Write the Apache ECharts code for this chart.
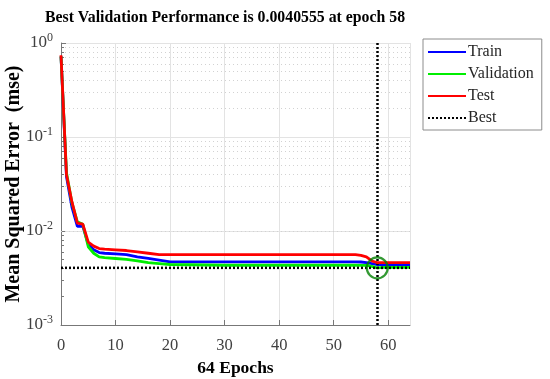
<!DOCTYPE html>
<html><head><meta charset="utf-8">
<script src="https://cdn.jsdelivr.net/npm/echarts@6/dist/echarts.min.js"></script>
<style>html,body{margin:0;padding:0;background:#fff}#c{width:550px;height:379px}</style>
</head><body><div id="c"></div>
<script>
const titleText = 'Best Validation Performance is 0.0040555 at epoch 58';
const epochs     = [0, 1, 2, 3, 4, 5, 6, 7, 8, 10, 12, 14, 16, 18, 20, 30, 40, 50, 54, 55, 56, 57, 58, 59, 64];
const train      = [0.72, 0.038, 0.018, 0.0112, 0.0113, 0.0072, 0.0063, 0.0059, 0.0058, 0.0057, 0.0056, 0.0053, 0.0051, 0.0049, 0.0047, 0.0047, 0.0047, 0.0047, 0.0047, 0.00468, 0.0046, 0.0045, 0.0044, 0.0044, 0.0044];
const validation = [0.72, 0.042, 0.020, 0.0125, 0.0118, 0.0068, 0.0058, 0.0053, 0.0052, 0.0051, 0.0050, 0.0048, 0.0046, 0.0045, 0.0044, 0.00432, 0.00432, 0.00432, 0.00432, 0.0043, 0.0043, 0.0042, 0.0040555, 0.0041, 0.0041];
const test       = [0.74, 0.040, 0.0205, 0.0121, 0.0118, 0.0076, 0.0069, 0.0065, 0.0064, 0.0063, 0.0062, 0.0060, 0.0058, 0.0056, 0.0056, 0.0056, 0.0056, 0.0056, 0.0056, 0.0055, 0.0053, 0.0048, 0.0046, 0.0046, 0.0046];
const bestEpoch = 58;
const bestValue = 0.0040555;
const xRange = [0, 64];
const yRange = [0.001, 1];
const yMinorGrid = [0.002,0.003,0.004,0.005,0.006,0.007,0.008,0.009,0.02,0.03,0.04,0.05,0.06,0.07,0.08,0.09,0.2,0.3,0.4,0.5,0.6,0.7,0.8,0.9];

const FONT = '"Liberation Serif","Times New Roman",serif';
const pair = (xs, ys) => xs.map((x, i) => [x, ys[i]]);

const chart = echarts.init(document.getElementById('c'), null, {renderer: 'canvas'});
chart.setOption({
  animation: false,
  backgroundColor: '#fff',
  title: {
    text: titleText, left: 220, top: 5, textAlign: 'center',
    textStyle: {fontFamily: FONT, fontWeight: 'bold', fontSize: 15.8, color: '#000'}
  },
  grid: {left: 61, right: 140, top: 43, bottom: 54, containLabel: false, outerBoundsMode: 'none'},
  legend: {
    orient: 'vertical', left: 423, top: 39,
    itemWidth: 38, itemHeight: 14, itemGap: 6,
    padding: [5, 8, 4, 4],
    borderColor: '#8c8c8c', borderWidth: 1, backgroundColor: '#fff',
    itemStyle: {opacity: 0},
    textStyle: {fontFamily: FONT, fontSize: 16, color: '#262626', padding: [0, 0, 0, -3]},
    data: ['Train', 'Validation', 'Test', 'Best']
  },
  xAxis: {
    type: 'value', min: xRange[0], max: xRange[1], interval: 10,
    name: '64 Epochs', nameLocation: 'middle', nameGap: 34,
    nameTextStyle: {fontFamily: FONT, fontWeight: 'bold', fontSize: 17.5, color: '#000'},
    axisLine: {lineStyle: {color: '#777', width: 1}},
    axisTick: {show: true, inside: true, length: 5, lineStyle: {color: '#777'}},
    axisLabel: {fontFamily: FONT, fontSize: 16.5, color: '#404040', margin: 12, showMaxLabel: false},
    splitLine: {show: true, lineStyle: {color: '#e3e3e3', width: 1}}
  },
  yAxis: {
    type: 'log', logBase: 10, min: yRange[0], max: yRange[1],
    name: 'Mean Squared Error  (mse)', nameLocation: 'middle', nameGap: 37,
    nameMoveOverlap: false,
    nameTextStyle: {fontFamily: FONT, fontWeight: 'bold', fontSize: 20, color: '#000'},
    axisLine: {show: true, lineStyle: {color: '#777', width: 1}},
    axisTick: {show: true, inside: true, length: 5, lineStyle: {color: '#777'}},
    axisLabel: {
      margin: 8,
      formatter: v => '{b|10}{s|' + Math.round(Math.log10(v)) + '}',
      rich: {
        b: {fontFamily: FONT, fontSize: 17, color: '#404040'},
        s: {fontFamily: FONT, fontSize: 12, color: '#404040', padding: [0, 0, 10, 0]}
      }
    },
    splitLine: {show: true, lineStyle: {color: '#e3e3e3', width: 1}}
  },
  series: [
    {
      name: 'Train', type: 'line', symbol: 'none', z: 3,
      lineStyle: {color: '#0000ff', width: 2.8}, itemStyle: {color: '#0000ff'},
      data: pair(epochs, train),
      markLine: {
        silent: true, symbol: 'none', label: {show: false}, z: 1,
        lineStyle: {color: '#d2d2d2', type: [1, 3], width: 1},
        data: yMinorGrid.map(v => ({yAxis: v}))
      }
    },
    {
      name: 'Validation', type: 'line', symbol: 'none', z: 4,
      lineStyle: {color: '#00ee00', width: 2.8}, itemStyle: {color: '#00ee00'},
      data: pair(epochs, validation),
      markLine: {
        silent: true, symbol: 'none', label: {show: false}, z: 2,
        lineStyle: {color: '#777', type: 'solid', width: 1},
        data: yMinorGrid.map(v => [{coord: [xRange[0], v]}, {coord: [xRange[0] + 0.55, v]}])
      }
    },
    {
      name: 'Test', type: 'line', symbol: 'none', z: 5,
      lineStyle: {color: '#ff0000', width: 2.8}, itemStyle: {color: '#ff0000'},
      data: pair(epochs, test)
    },
    {
      name: 'Best', type: 'line', symbol: 'none', z: 6,
      lineStyle: {color: '#000', width: 2.5, type: [2, 2]}, itemStyle: {color: '#000'},
      data: [[xRange[0], bestValue], [xRange[1], bestValue]],
      markLine: {
        silent: true, symbol: 'none', label: {show: false},
        lineStyle: {color: '#000', width: 2.5, type: [2, 2]},
        data: [{xAxis: bestEpoch}]
      }
    },
    {
      name: 'circle', type: 'scatter', z: 7, symbol: 'circle', symbolSize: 21,
      itemStyle: {color: 'rgba(0,0,0,0)', borderColor: '#008000', borderWidth: 2.2},
      data: [[bestEpoch, bestValue]]
    }
  ]
});
</script></body></html>
